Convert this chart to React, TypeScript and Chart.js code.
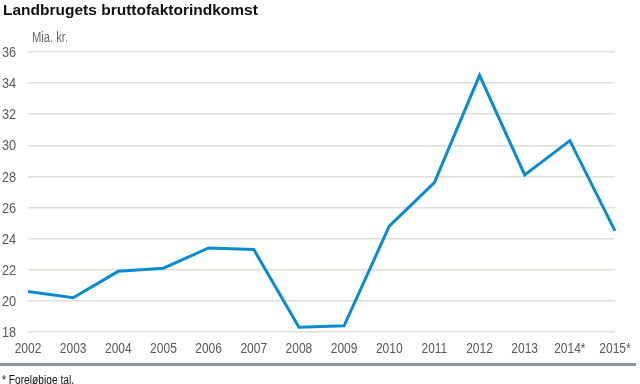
import React, { useEffect, useRef } from "react";
import { Chart, registerables } from "chart.js";

Chart.register(...registerables);

const title = "Landbrugets bruttofaktorindkomst";
const unitLabel = "Mia. kr.";
const footnote = "* Foreløbige tal.";
const years = ["2002", "2003", "2004", "2005", "2006", "2007", "2008", "2009", "2010", "2011", "2012", "2013", "2014*", "2015*"];
const income = [20.6, 20.2, 21.9, 22.1, 23.4, 23.3, 18.3, 18.4, 24.8, 27.6, 34.5, 28.1, 30.3, 24.5];
const yMin = 18;
const yMax = 36;
const yStep = 2;

const FONT = "'Liberation Sans', Arial, sans-serif";
const SQUEEZE = 0.8;

const condensedTicks = {
  id: "condensedTicks",
  afterDraw(chart: any) {
    const ctx = chart.ctx;
    ctx.save();
    ctx.font = `15px ${FONT}`;
    ctx.fillStyle = "#585858";
    const xs = chart.scales.x;
    ctx.textAlign = "center";
    ctx.textBaseline = "middle";
    xs.ticks.forEach((t: any, i: number) => {
      const x = xs.getPixelForTick(i);
      ctx.save();
      ctx.translate(x, 349);
      ctx.scale(SQUEEZE, 1);
      ctx.fillText(String(xs.getLabelForValue(t.value)), 0, 0);
      ctx.restore();
    });
    const ys = chart.scales.y;
    ctx.textAlign = "left";
    ys.ticks.forEach((t: any) => {
      const y = ys.getPixelForValue(t.value);
      ctx.save();
      ctx.translate(2, y + 1);
      ctx.scale(SQUEEZE + 0.05, 1);
      ctx.fillText(String(t.value), 0, 0);
      ctx.restore();
    });
    ctx.restore();
  },
};

export default function App() {
  const ref = useRef<HTMLCanvasElement | null>(null);
  useEffect(() => {
    if (!ref.current) return;
    const chart = new Chart(ref.current, {
      type: "line",
      data: {
        labels: years,
        datasets: [
          {
            data: income,
            borderColor: "#0a8bd0",
            borderWidth: 3,
            pointRadius: 0,
            tension: 0,
            fill: false,
          },
        ],
      },
      options: {
        responsive: false,
        animation: false,
        layout: { padding: { left: 2, right: 25, top: 52, bottom: 22 } },
        plugins: { legend: { display: false }, tooltip: { enabled: false } },
        scales: {
          x: {
            offset: false,
            grid: { display: false, drawTicks: false },
            border: { display: false },
            ticks: { display: false, autoSkip: false },
            afterFit: (s: any) => { s.height = 30; },
          },
          y: {
            min: yMin,
            max: yMax,
            grid: { color: "#dfddd6", lineWidth: 1.5, drawTicks: false },
            border: { display: false },
            ticks: { stepSize: yStep, display: false },
            afterFit: (s: any) => { s.width = 26; },
          },
        },
      },
      plugins: [condensedTicks],
    });
    return () => chart.destroy();
  }, []);

  return (
    <div style={{ position: "fixed", left: 0, top: 0, width: 640, height: 384, background: "#fff", overflow: "hidden" }}>
      <canvas ref={ref} width={640} height={384} style={{ position: "absolute", left: 0, top: 0 }} />
      <div style={{ position: "absolute", left: 3, top: 1, fontFamily: FONT, fontWeight: "bold", fontSize: 15.5, color: "#111", whiteSpace: "nowrap" }}>{title}</div>
      <div style={{ position: "absolute", left: 32, top: 29, fontFamily: FONT, fontSize: 14, color: "#666", whiteSpace: "nowrap", transform: "scaleX(0.8)", transformOrigin: "left top" }}>{unitLabel}</div>
      <div style={{ position: "absolute", left: 0, top: 363, width: 636, height: 3, background: "#8b969c" }} />
      <div style={{ position: "absolute", left: 2, top: 373, fontFamily: FONT, fontSize: 12, color: "#111", whiteSpace: "nowrap", transform: "scaleX(0.85)", transformOrigin: "left top" }}>{footnote}</div>
    </div>
  );
}
